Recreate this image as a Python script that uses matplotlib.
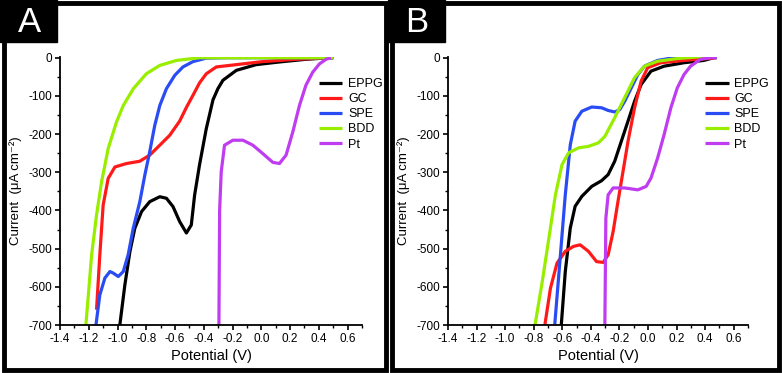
import matplotlib.pyplot as plt
from matplotlib.patches import Rectangle
from matplotlib.ticker import MultipleLocator

plt.rcParams['font.family'] = ['Liberation Sans', 'DejaVu Sans']
plt.rcParams['axes.unicode_minus'] = False

# --- data (Potential V, Current uA/cm2) ---
# panel A
a_eppg_x = [-0.984, -0.949, -0.914, -0.88, -0.833, -0.776, -0.706, -0.66, -0.614, -0.568, -0.521, -0.487, -0.464, -0.43, -0.383, -0.336, -0.302, -0.267, -0.174, -0.036, 0.126, 0.31, 0.473, 0.5]
a_eppg_y = [-700, -595, -508, -447, -403, -377, -364, -368, -390, -429, -459, -438, -360, -281, -186, -110, -81, -59, -33, -18, -11, -4, 0, 0]
a_gc_x = [-1.146, -1.123, -1.1, -1.065, -1.018, -0.937, -0.845, -0.776, -0.706, -0.637, -0.568, -0.521, -0.475, -0.43, -0.383, -0.313, -0.22, 0.01, 0.242, 0.473, 0.5]
a_gc_y = [-660, -516, -386, -316, -286, -277, -271, -255, -229, -203, -166, -130, -98, -66, -42, -24, -20, -10, -4, 0, 0]
a_spe_x = [-1.15, -1.123, -1.088, -1.053, -1.03, -0.995, -0.96, -0.926, -0.891, -0.845, -0.81, -0.776, -0.741, -0.706, -0.66, -0.602, -0.545, -0.475, -0.383, -0.25, 0.5]
a_spe_y = [-700, -621, -577, -560, -564, -573, -560, -516, -447, -377, -307, -246, -177, -125, -81, -46, -24, -10, -1, 0, 0]
a_bdd_x = [-1.22, -1.18, -1.146, -1.111, -1.065, -1.007, -0.96, -0.89, -0.8, -0.706, -0.59, -0.43, 0.5]
a_bdd_y = [-700, -516, -412, -325, -238, -168, -125, -81, -42, -20, -7, 0, 0]
a_pt_x = [-0.295, -0.29, -0.279, -0.256, -0.198, -0.128, -0.059, 0.01, 0.08, 0.126, 0.172, 0.219, 0.265, 0.31, 0.357, 0.404, 0.45, 0.485]
a_pt_y = [-700, -400, -299, -229, -216, -216, -229, -251, -274, -277, -255, -194, -125, -72, -38, -16, -4, 0]

# panel B
b_eppg_x = [-0.607, -0.579, -0.544, -0.51, -0.463, -0.394, -0.325, -0.279, -0.233, -0.187, -0.14, -0.094, -0.048, 0.021, 0.113, 0.252, 0.39, 0.46]
b_eppg_y = [-700, -560, -446, -389, -363, -337, -322, -306, -271, -219, -166, -114, -70, -35, -22, -13, -7, 0]
b_gc_x = [-0.722, -0.683, -0.637, -0.579, -0.521, -0.475, -0.417, -0.36, -0.313, -0.279, -0.244, -0.21, -0.175, -0.14, -0.094, -0.048, -0.002, 0.09, 0.252, 0.48]
b_gc_y = [-700, -604, -538, -507, -494, -490, -507, -534, -536, -516, -455, -376, -298, -219, -131, -61, -26, -13, -7, 0]
b_spe_x = [-0.653, -0.613, -0.579, -0.544, -0.51, -0.463, -0.394, -0.325, -0.279, -0.233, -0.198, -0.163, -0.117, -0.071, -0.025, 0.067, 0.205, 0.25, 0.39, 0.48]
b_spe_y = [-700, -516, -359, -228, -166, -140, -129, -131, -138, -142, -136, -114, -79, -44, -22, -7, 2, 4, 4, 0]
b_bdd_x = [-0.791, -0.74, -0.694, -0.648, -0.602, -0.556, -0.486, -0.417, -0.348, -0.302, -0.233, -0.164, -0.094, -0.025, 0.067, 0.205, 0.344, 0.46]
b_bdd_y = [-700, -586, -473, -359, -280, -249, -236, -232, -223, -206, -157, -105, -52, -22, -9, -2, 2, 4]
b_pt_x = [-0.302, -0.295, -0.279, -0.244, -0.163, -0.071, -0.013, 0.021, 0.067, 0.113, 0.16, 0.205, 0.252, 0.298, 0.367, 0.436, 0.48]
b_pt_y = [-700, -420, -359, -341, -341, -346, -337, -315, -263, -201, -131, -79, -44, -22, -4, 0, 0]

names = ['EPPG', 'GC', 'SPE', 'BDD', 'Pt']
colors = ['#000000', '#ff1a1a', '#2a4cf5', '#99ee00', '#c03cf0']

panels = [
    ('A', [(a_eppg_x, a_eppg_y), (a_gc_x, a_gc_y), (a_spe_x, a_spe_y), (a_bdd_x, a_bdd_y), (a_pt_x, a_pt_y)]),
    ('B', [(b_eppg_x, b_eppg_y), (b_gc_x, b_gc_y), (b_spe_x, b_spe_y), (b_bdd_x, b_bdd_y), (b_pt_x, b_pt_y)]),
]

fig = plt.figure(figsize=(7.82, 3.73), dpi=100)
W, H = 782, 373

frames = [(4, 386), (392, 779)]
ax_lefts = [60, 448]
ax_widths = [302, 300]

for i, (letter, series) in enumerate(panels):
    x0, x1 = frames[i]
    # panel frame
    fig.patches.append(Rectangle((x0 / W, 3 / H), (x1 - x0) / W, (H - 6) / H,
                                 transform=fig.transFigure, fill=False,
                                 edgecolor='black', linewidth=3.5))
    # letter box
    fig.patches.append(Rectangle(((x0 - 4) / W, 1 - 42 / H), 57 / W, 42 / H,
                                 transform=fig.transFigure, facecolor='black',
                                 edgecolor='black'))
    fig.text((x0 + 25) / W, 1 - 22 / H, letter, color='white', fontsize=25,
             ha='center', va='center')

    ax = fig.add_axes([ax_lefts[i] / W, 1 - 325 / H, ax_widths[i] / W, 268 / H])
    for (xs, ys), name, c in zip(series, names, colors):
        ax.plot(xs, ys, color=c, linewidth=2.3, label=name,
                solid_capstyle='butt', solid_joinstyle='round')

    ax.set_xlim(-1.4, 0.7)
    ax.set_ylim(-700, 2)
    ax.xaxis.set_minor_locator(MultipleLocator(0.1))
    ax.yaxis.set_major_locator(MultipleLocator(100))
    ax.yaxis.set_minor_locator(MultipleLocator(50))
    ax.set_xticks([-1.4, -1.2, -1.0, -0.8, -0.6, -0.4, -0.2, 0.0, 0.2, 0.4, 0.6])
    ax.set_xticklabels(['-1.4', '-1.2', '-1.0', '-0.8', '-0.6', '-0.4', '-0.2', '0.0', '0.2', '0.4', '0.6'])
    ax.spines['top'].set_visible(False)
    ax.spines['right'].set_visible(False)
    ax.spines['left'].set_linewidth(1.3)
    ax.spines['bottom'].set_linewidth(1.3)
    ax.tick_params(which='major', direction='out', length=3.5, width=1.2, labelsize=8.5, pad=2)
    ax.tick_params(which='minor', direction='out', length=2, width=1.0)
    ax.set_xlabel('Potential (V)', fontsize=10.5, labelpad=3)
    ax.set_ylabel('Current  (μA cm⁻²)', fontsize=9.5, labelpad=5)
    ax.legend(loc='upper left', bbox_to_anchor=(0.84, 0.94), frameon=False,
              fontsize=9, handlelength=1.9, handletextpad=0.45, labelspacing=0.25,
              borderaxespad=0)

fig.savefig('out.png', dpi=100)
